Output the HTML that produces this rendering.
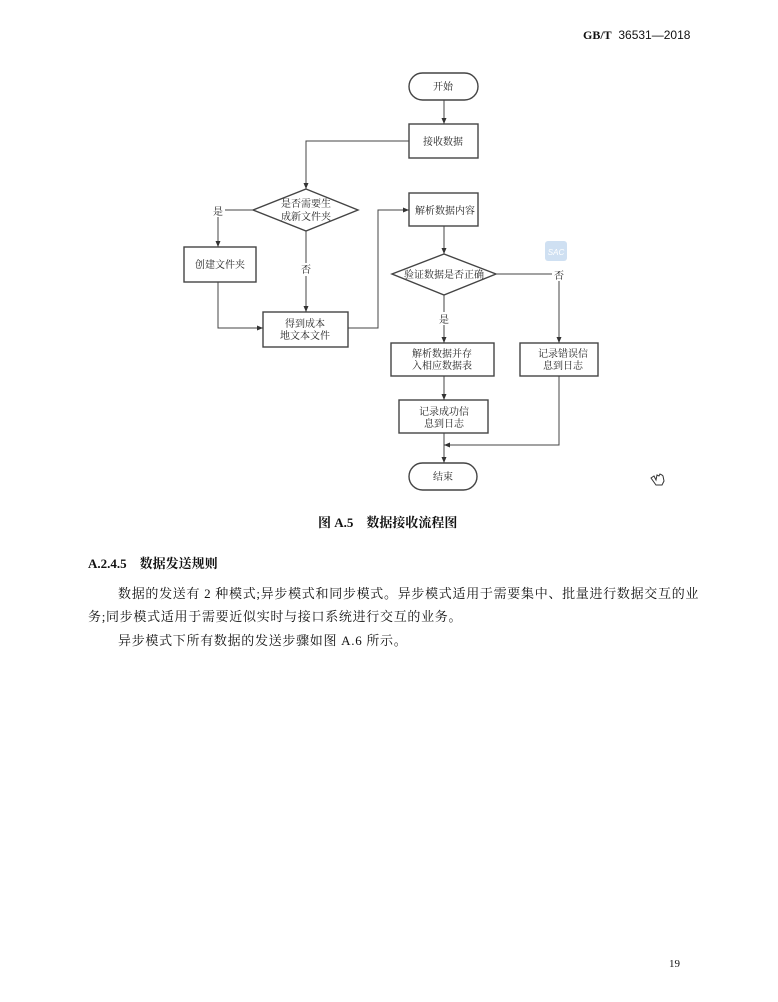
<!DOCTYPE html>
<html><head><meta charset="utf-8"><style>
body{margin:0;background:#fff;}
#p{position:relative;width:778px;height:1002px;overflow:hidden;background:#fff;font-family:"Liberation Serif","Noto Serif CJK SC",serif;color:#111;}
.t{position:absolute;white-space:nowrap;font-size:13px;line-height:16px;}
svg{position:absolute;left:0;top:0;}
svg text{font-family:"Liberation Serif","Noto Serif CJK SC",serif;font-size:10px;fill:#222;}
</style></head><body><div id="p">
<div class="t" style="left:583px;top:27px;font-size:12px;font-family:'Liberation Sans',sans-serif;"><b style="font-family:'Liberation Serif',serif">GB/T</b>&nbsp; 36531—2018</div>
<svg width="778" height="1002" viewBox="0 0 778 1002">
<defs><marker id="a" markerWidth="6" markerHeight="6" refX="6" refY="3" orient="auto"><path d="M0,0.5 L6,3 L0,5.5 z" fill="#333"/></marker></defs>
<g stroke="#444" stroke-width="1" fill="none">
<rect x="409" y="73" width="69" height="27" rx="13.5" stroke-width="1.4"/>
<rect x="409" y="124" width="69" height="34" stroke-width="1.4"/>
<polygon points="306,189 358,210 306,231 253,210" stroke-width="1.4"/>
<rect x="184" y="247" width="72" height="35" stroke-width="1.4"/>
<rect x="263" y="312" width="85" height="35" stroke-width="1.4"/>
<rect x="409" y="193" width="69" height="33" stroke-width="1.4"/>
<polygon points="444,254 496,274 444,295 392,274" stroke-width="1.4"/>
<rect x="391" y="343" width="103" height="33" stroke-width="1.4"/>
<rect x="520" y="343" width="78" height="33" stroke-width="1.4"/>
<rect x="399" y="400" width="89" height="33" stroke-width="1.4"/>
<rect x="409" y="463" width="68" height="27" rx="13.5" stroke-width="1.4"/>
<path d="M444,100 V124" marker-end="url(#a)"/>
<path d="M409,141 H306 V189" marker-end="url(#a)"/>
<path d="M253,210 H218 V247" marker-end="url(#a)"/>
<path d="M306,231 V312" marker-end="url(#a)"/>
<path d="M218,282 V328 H263" marker-end="url(#a)"/>
<path d="M348,328 H378 V210 H409" marker-end="url(#a)"/>
<path d="M444,226 V254" marker-end="url(#a)"/>
<path d="M496,274 H559 V343" marker-end="url(#a)"/>
<path d="M444,295 V343" marker-end="url(#a)"/>
<path d="M444,376 V400" marker-end="url(#a)"/>
<path d="M444,433 V463" marker-end="url(#a)"/>
<path d="M559,376 V445 H444" marker-end="url(#a)"/>
</g>
<g fill="#fff" stroke="none">
<rect x="212" y="204" width="13" height="13"/><rect x="299" y="263" width="14" height="13"/>
<rect x="437" y="312" width="14" height="13"/><rect x="552" y="268" width="14" height="13"/>
</g>
<rect x="545" y="241" width="22" height="20" rx="3" fill="#cfe0f2"/>
<text x="556" y="255" text-anchor="middle" style="font-size:8px;fill:#fff;font-family:'Liberation Sans',sans-serif;font-style:italic">SAC</text>
<g text-anchor="middle">
<text x="443" y="90">开始</text>
<text x="443" y="145">接收数据</text>
<text x="306" y="207">是否需要生</text><text x="306" y="220">成新文件夹</text>
<text x="218" y="215">是</text>
<text x="220" y="268">创建文件夹</text>
<text x="306" y="273">否</text>
<text x="305" y="327">得到成本</text><text x="305" y="339">地文本文件</text>
<text x="445" y="214">解析数据内容</text>
<text x="444" y="278">验证数据是否正确</text>
<text x="559" y="279">否</text>
<text x="444" y="323">是</text>
<text x="442" y="357">解析数据并存</text><text x="442" y="369">入相应数据表</text>
<text x="563" y="357">记录错误信</text><text x="563" y="369">息到日志</text>
<text x="444" y="415">记录成功信</text><text x="444" y="427">息到日志</text>
<text x="443" y="480">结束</text>
</g>
<path d="M651,478 l3,-2 2,4 1,-5 2,1 1,-2 2,1 1,1 1,5 -2,4 -6,0 z" fill="#fff" stroke="#333" stroke-width="1"/>
</svg>
<div class="t" style="left:318px;top:515px;font-weight:bold;">图 A.5&nbsp;&nbsp;&nbsp; 数据接收流程图</div>
<div class="t" style="left:88px;top:556px;font-weight:bold;">A.2.4.5&nbsp;&nbsp;&nbsp; 数据发送规则</div>
<div class="t" style="left:118px;top:586px;letter-spacing:0.7px;">数据的发送有 2 种模式;异步模式和同步模式。异步模式适用于需要集中、批量进行数据交互的业</div>
<div class="t" style="left:88px;top:609px;letter-spacing:0.7px;">务;同步模式适用于需要近似实时与接口系统进行交互的业务。</div>
<div class="t" style="left:118px;top:633px;letter-spacing:0.7px;">异步模式下所有数据的发送步骤如图 A.6 所示。</div>
<div class="t" style="left:669px;top:956px;font-size:11px;">19</div>
</div></body></html>
